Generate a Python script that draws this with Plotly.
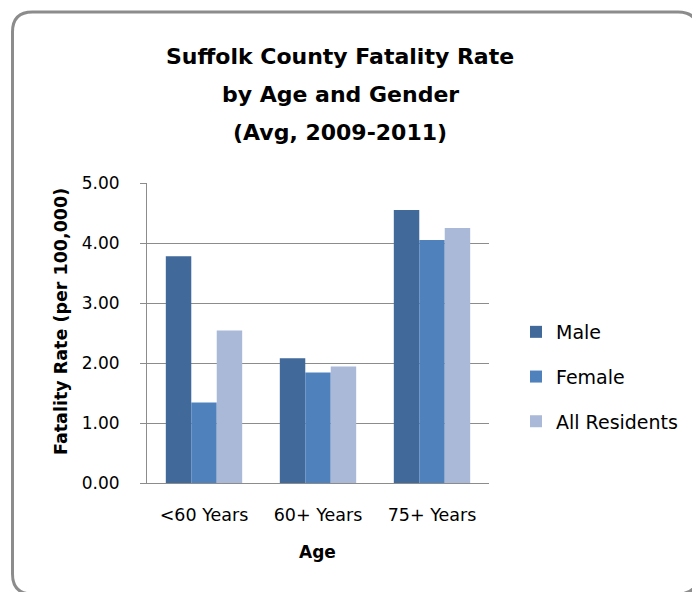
import plotly.graph_objects as go

categories = ["<60 Years", "60+ Years", "75+ Years"]
male = [3.78, 2.08, 4.55]
female = [1.34, 1.84, 4.05]
all_residents = [2.54, 1.94, 4.25]
series_names = ["Male", "Female", "All Residents"]
y_ticks = [0, 1, 2, 3, 4, 5]
y_tick_labels = ["0.00", "1.00", "2.00", "3.00", "4.00", "5.00"]
title_lines = ["Suffolk County Fatality Rate", "by Age and Gender", "(Avg, 2009-2011)"]
x_title = "Age"
y_title = "Fatality Rate (per 100,000)"

colors = ["#41699A", "#4F81BD", "#AAB9D7"]
FONT = "DejaVu Sans"
GRAY = "#8C8C8C"

# page body has an 8px margin; the figure is sized to fill the rest of the window
OFF = 8
W, H = 692, 584
# plot area in screen pixels
SL, SR, ST, SB = 147, 489, 183, 483
ml, mt = SL - OFF, ST - OFF
mr, mb = W - (SR - OFF), H - (SB - OFF)
pw, ph = W - ml - mr, H - mt - mb


def px(x):
    return (x - OFF - ml) / pw


def py(y):
    return 1 - (y - OFF - mt) / ph


fig = go.Figure()
for name, vals, col in zip(series_names, [male, female, all_residents], colors):
    fig.add_trace(go.Bar(
        x=categories, y=vals, name=name, marker=dict(color=col, line=dict(width=0)),
        legendgroup=name,
    ))

# rounded border (screen pixel positions)
x0, x1, y0, y1, r = 12.5, 698, 12, 594, 20
path = (
    f"M{px(x0 + r)},{py(y0)} L{px(x1 - r)},{py(y0)} "
    f"Q{px(x1)},{py(y0)} {px(x1)},{py(y0 + r)} "
    f"L{px(x1)},{py(y1 - r)} Q{px(x1)},{py(y1)} {px(x1 - r)},{py(y1)} "
    f"L{px(x0 + r)},{py(y1)} Q{px(x0)},{py(y1)} {px(x0)},{py(y1 - r)} "
    f"L{px(x0)},{py(y0 + r)} Q{px(x0)},{py(y0)} {px(x0 + r)},{py(y0)} Z"
)
fig.add_shape(type="path", path=path, xref="paper", yref="paper",
              line=dict(color=GRAY, width=3), layer="above")

title_y = [56, 95, 132.5]
for t, yy in zip(title_lines, title_y):
    fig.add_annotation(text=f"<b>{t}</b>", x=px(340), y=py(yy), xref="paper", yref="paper",
                       showarrow=False, xanchor="center", yanchor="middle",
                       font=dict(family=FONT, size=22, color="#000000"))

fig.add_annotation(text=f"<b>{x_title}</b>", x=px(317), y=py(552), xref="paper", yref="paper",
                   showarrow=False, xanchor="center", yanchor="middle",
                   font=dict(family=FONT, size=17, color="#000000"))
fig.add_annotation(text=f"<b>{y_title}</b>", x=px(61), y=py(322), xref="paper", yref="paper",
                   showarrow=False, xanchor="center", yanchor="middle", textangle=-90,
                   font=dict(family=FONT, size=17.5, color="#000000"))

fig.update_layout(
    width=W, height=H,
    margin=dict(l=ml, r=mr, t=mt, b=mb),
    paper_bgcolor="white", plot_bgcolor="white",
    bargap=0.33, bargroupgap=0,
    font=dict(family=FONT, size=17, color="#000000"),
    showlegend=True,
    legend=dict(x=px(516), y=py(313), xanchor="left", yanchor="top",
                font=dict(family=FONT, size=19, color="#000000"),
                tracegroupgap=17, bgcolor="rgba(0,0,0,0)"),
    xaxis=dict(
        showgrid=False, showline=True, linecolor=GRAY, linewidth=1,
        ticks="", ticklabelstandoff=16,
        tickfont=dict(family=FONT, size=17.5, color="#000000"),
    ),
    yaxis=dict(
        range=[0, 5], tickvals=y_ticks, ticktext=y_tick_labels,
        showgrid=True, gridcolor=GRAY, gridwidth=1,
        showline=True, linecolor=GRAY, linewidth=1,
        ticks="outside", ticklen=6, tickcolor=GRAY,
        ticklabelstandoff=17,
        tickfont=dict(family=FONT, size=17, color="#000000"),
        zeroline=False,
    ),
)

fig.write_html("out.html")
